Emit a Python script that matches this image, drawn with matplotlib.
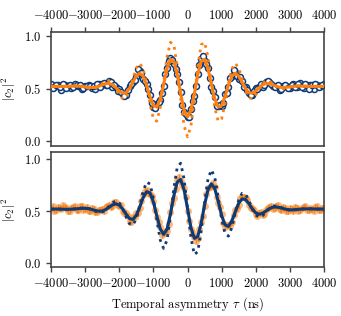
import numpy as np
import matplotlib
matplotlib.use("Agg")
import matplotlib.pyplot as plt

plt.rcParams.update({
    "font.family": "serif",
    "font.serif": ["cmr10", "DejaVu Serif"],
    "mathtext.fontset": "cm",
    "axes.formatter.use_mathtext": True,
    "axes.unicode_minus": True,
    "font.size": 9,
})

NAVY = "#0d3b78"
ORANGE = "#ff7f0e"

tau = np.arange(-4000, 4001, 100)        # grid for curves and first set of points
tau_mid = np.arange(-3950, 3951, 100)    # interleaved measurement points

# --- top panel: measured (open circles), fit (solid), theory (dotted) ---
top_data = [0.540, 0.510, 0.535, 0.490, 0.530, 0.526, 0.507, 0.543, 0.523, 0.500,
            0.528, 0.537, 0.502, 0.492, 0.539, 0.539, 0.534, 0.570, 0.511, 0.517,
            0.492, 0.451, 0.443, 0.527, 0.563, 0.610, 0.666, 0.595, 0.539, 0.436,
            0.324, 0.348, 0.393, 0.520, 0.699, 0.795, 0.731, 0.637, 0.470, 0.280,
            0.230,
            0.307, 0.430, 0.642, 0.784, 0.763, 0.694, 0.515, 0.417, 0.332, 0.329,
            0.446, 0.515, 0.620, 0.660, 0.594, 0.570, 0.519, 0.453, 0.440, 0.502,
            0.511, 0.516, 0.560, 0.564, 0.525, 0.527, 0.488, 0.525, 0.522, 0.504,
            0.540, 0.518, 0.550, 0.505, 0.529, 0.532, 0.498, 0.536, 0.524, 0.540]
top_data_mid = [0.508, 0.532, 0.515, 0.541, 0.505, 0.530, 0.514, 0.538, 0.531, 0.505,
                0.520, 0.528, 0.523, 0.540, 0.515, 0.552, 0.538, 0.560, 0.530, 0.480,
                0.470, 0.430, 0.490, 0.545, 0.585, 0.688, 0.650, 0.570, 0.495, 0.360,
                0.318, 0.370, 0.455, 0.640, 0.760, 0.770, 0.690, 0.560, 0.345, 0.262,
                0.225, 0.380, 0.525, 0.725, 0.805, 0.730, 0.600, 0.480, 0.335, 0.345,
                0.360, 0.462, 0.600, 0.680, 0.620, 0.610, 0.515, 0.488, 0.440, 0.480,
                0.500, 0.540, 0.532, 0.570, 0.545, 0.510, 0.530, 0.498, 0.530, 0.505,
                0.535, 0.512, 0.540, 0.515, 0.545, 0.500, 0.530, 0.545, 0.512, 0.535]
top_fit = [0.520, 0.520, 0.520, 0.520, 0.520, 0.521, 0.522, 0.523, 0.523, 0.520,
           0.516, 0.512, 0.510, 0.512, 0.521, 0.535, 0.546, 0.548, 0.536, 0.509,
           0.477, 0.456, 0.461, 0.499, 0.560, 0.620, 0.646, 0.617, 0.533, 0.424,
           0.339, 0.324, 0.399, 0.540, 0.689, 0.778, 0.759, 0.632, 0.450, 0.292,
           0.230,
           0.292, 0.450, 0.632, 0.759, 0.778, 0.689, 0.540, 0.399, 0.324, 0.339,
           0.424, 0.533, 0.617, 0.646, 0.620, 0.560, 0.499, 0.461, 0.456, 0.477,
           0.509, 0.536, 0.548, 0.546, 0.535, 0.521, 0.512, 0.510, 0.512, 0.516,
           0.520, 0.523, 0.523, 0.522, 0.521, 0.520, 0.520, 0.520, 0.520, 0.520]
top_theory = [0.520, 0.520, 0.520, 0.520, 0.520, 0.521, 0.525, 0.527, 0.526, 0.521,
              0.512, 0.503, 0.499, 0.505, 0.523, 0.548, 0.570, 0.573, 0.549, 0.499,
              0.441, 0.403, 0.413, 0.482, 0.591, 0.695, 0.740, 0.688, 0.543, 0.357,
              0.213, 0.189, 0.316, 0.553, 0.802, 0.940, 0.917, 0.706, 0.404, 0.143,
              0.040,
              0.143, 0.404, 0.706, 0.917, 0.940, 0.802, 0.553, 0.316, 0.189, 0.213,
              0.357, 0.543, 0.688, 0.740, 0.695, 0.591, 0.482, 0.413, 0.403, 0.441,
              0.499, 0.549, 0.573, 0.570, 0.548, 0.523, 0.505, 0.499, 0.503, 0.512,
              0.521, 0.526, 0.527, 0.525, 0.521, 0.520, 0.520, 0.520, 0.520, 0.520]

# --- bottom panel: measured (filled orange), fit (solid navy), theory (dotted navy) ---
bot_data = [0.530, 0.505, 0.540, 0.525, 0.538, 0.500, 0.534, 0.545, 0.512, 0.550,
            0.520, 0.498, 0.530, 0.490, 0.512, 0.522, 0.540, 0.560, 0.548, 0.590,
            0.545, 0.505, 0.485, 0.410, 0.440, 0.478, 0.530, 0.655, 0.700, 0.660,
            0.600, 0.440, 0.345, 0.290, 0.310, 0.490, 0.630, 0.800, 0.785, 0.720,
            0.505,
            0.330, 0.255, 0.240, 0.400, 0.545, 0.725, 0.745, 0.730, 0.575, 0.470,
            0.350, 0.368, 0.395, 0.512, 0.560, 0.635, 0.625, 0.560, 0.530, 0.470,
            0.485, 0.465, 0.515, 0.540, 0.525, 0.552, 0.520, 0.540, 0.505, 0.530,
            0.500, 0.535, 0.508, 0.540, 0.515, 0.528, 0.505, 0.545, 0.515, 0.530]
bot_data_mid = [0.545, 0.512, 0.530, 0.555, 0.528, 0.505, 0.540, 0.510, 0.548, 0.515,
                0.540, 0.505, 0.525, 0.495, 0.515, 0.498, 0.545, 0.540, 0.585, 0.560,
                0.555, 0.480, 0.455, 0.395, 0.445, 0.480, 0.600, 0.690, 0.675, 0.650,
                0.510, 0.400, 0.270, 0.305, 0.380, 0.580, 0.710, 0.830, 0.755, 0.640,
                0.410, 0.290, 0.215, 0.325, 0.455, 0.660, 0.735, 0.770, 0.640, 0.540,
                0.390, 0.365, 0.355, 0.465, 0.525, 0.625, 0.640, 0.605, 0.530, 0.515,
                0.455, 0.490, 0.475, 0.530, 0.550, 0.530, 0.555, 0.510, 0.535, 0.498,
                0.525, 0.540, 0.505, 0.532, 0.548, 0.510, 0.525, 0.540, 0.508, 0.530]
bot_fit = [0.520, 0.520, 0.520, 0.519, 0.518, 0.518, 0.519, 0.521, 0.524, 0.527,
           0.527, 0.524, 0.516, 0.506, 0.500, 0.501, 0.515, 0.537, 0.560, 0.570,
           0.558, 0.521, 0.471, 0.429, 0.421, 0.460, 0.540, 0.630, 0.687, 0.675,
           0.588, 0.454, 0.330, 0.277, 0.328, 0.472, 0.648, 0.780, 0.804, 0.705,
           0.525,
           0.343, 0.239, 0.257, 0.384, 0.560, 0.706, 0.763, 0.714, 0.593, 0.458,
           0.368, 0.353, 0.407, 0.495, 0.576, 0.618, 0.612, 0.572, 0.521, 0.483,
           0.470, 0.480, 0.502, 0.524, 0.538, 0.540, 0.534, 0.525, 0.517, 0.513,
           0.513, 0.516, 0.519, 0.521, 0.522, 0.522, 0.521, 0.520, 0.520, 0.520]
bot_theory = [0.520, 0.520, 0.520, 0.519, 0.517, 0.517, 0.518, 0.521, 0.526, 0.530,
              0.531, 0.526, 0.514, 0.499, 0.488, 0.491, 0.511, 0.546, 0.582, 0.598,
              0.579, 0.522, 0.443, 0.378, 0.366, 0.427, 0.551, 0.691, 0.779, 0.761,
              0.625, 0.417, 0.224, 0.142, 0.222, 0.445, 0.719, 0.923, 0.961, 0.807,
              0.528,
              0.245, 0.083, 0.111, 0.308, 0.582, 0.809, 0.897, 0.822, 0.634, 0.424,
              0.284, 0.260, 0.344, 0.482, 0.607, 0.672, 0.663, 0.600, 0.522, 0.463,
              0.442, 0.457, 0.492, 0.527, 0.548, 0.552, 0.542, 0.527, 0.515, 0.509,
              0.510, 0.514, 0.519, 0.522, 0.523, 0.523, 0.521, 0.520, 0.520, 0.520]

ERR = 0.025


def style_axis(ax):
    ax.set_xlim(-4000, 4000)
    ax.set_yticks([0.0, 0.5, 1.0])
    ax.set_xticks(np.arange(-4000, 4001, 1000))
    ax.set_ylabel(r"$|c_2|^2$")
    for sp in ax.spines.values():
        sp.set_color("#444444")
        sp.set_linewidth(1.2)
    ax.tick_params(direction="out", color="#444444", width=1.0, length=3.5)


def errbars(ax, x, y):
    ax.errorbar(x, y, yerr=ERR, fmt="none", ecolor="#a8a8a8",
                elinewidth=0.8, zorder=1)


fig = plt.figure(figsize=(3.41, 3.16), dpi=100)
ax1 = fig.add_axes([0.1496, 0.5370, 0.8006, 0.3624])
ax2 = fig.add_axes([0.1496, 0.1540, 0.8006, 0.3655])

# top
errbars(ax1, tau, top_data)
errbars(ax1, tau_mid, top_data_mid)
for x, y in [(tau, top_data), (tau_mid, top_data_mid)]:
    ax1.plot(x, y, "o", mfc="white", mec=NAVY, mew=1.1, ms=4.3, zorder=2)
ax1.plot(tau, top_theory, ":", color=ORANGE, lw=2.0, zorder=3)
ax1.plot(tau, top_fit, "-", color=ORANGE, lw=2.2, zorder=4)
style_axis(ax1)
ax1.set_ylim(-0.05, 1.04)
ax1.xaxis.tick_top()
ax1.tick_params(axis="x", bottom=False, top=True, labelbottom=False, labeltop=True)

# bottom
errbars(ax2, tau, bot_data)
errbars(ax2, tau_mid, bot_data_mid)
for x, y in [(tau, bot_data), (tau_mid, bot_data_mid)]:
    ax2.plot(x, y, "o", color=ORANGE, alpha=0.55, mew=0, ms=5.0, zorder=2)
ax2.plot(tau, bot_theory, ":", color=NAVY, lw=2.0, zorder=3)
ax2.plot(tau, bot_fit, "-", color=NAVY, lw=2.2, zorder=4)
style_axis(ax2)
ax2.set_ylim(-0.04, 1.07)
ax2.tick_params(axis="x", top=False)
ax2.set_xlabel(r"Temporal asymmetry $\tau$ (ns)")

fig.savefig("out.png", dpi=100)
